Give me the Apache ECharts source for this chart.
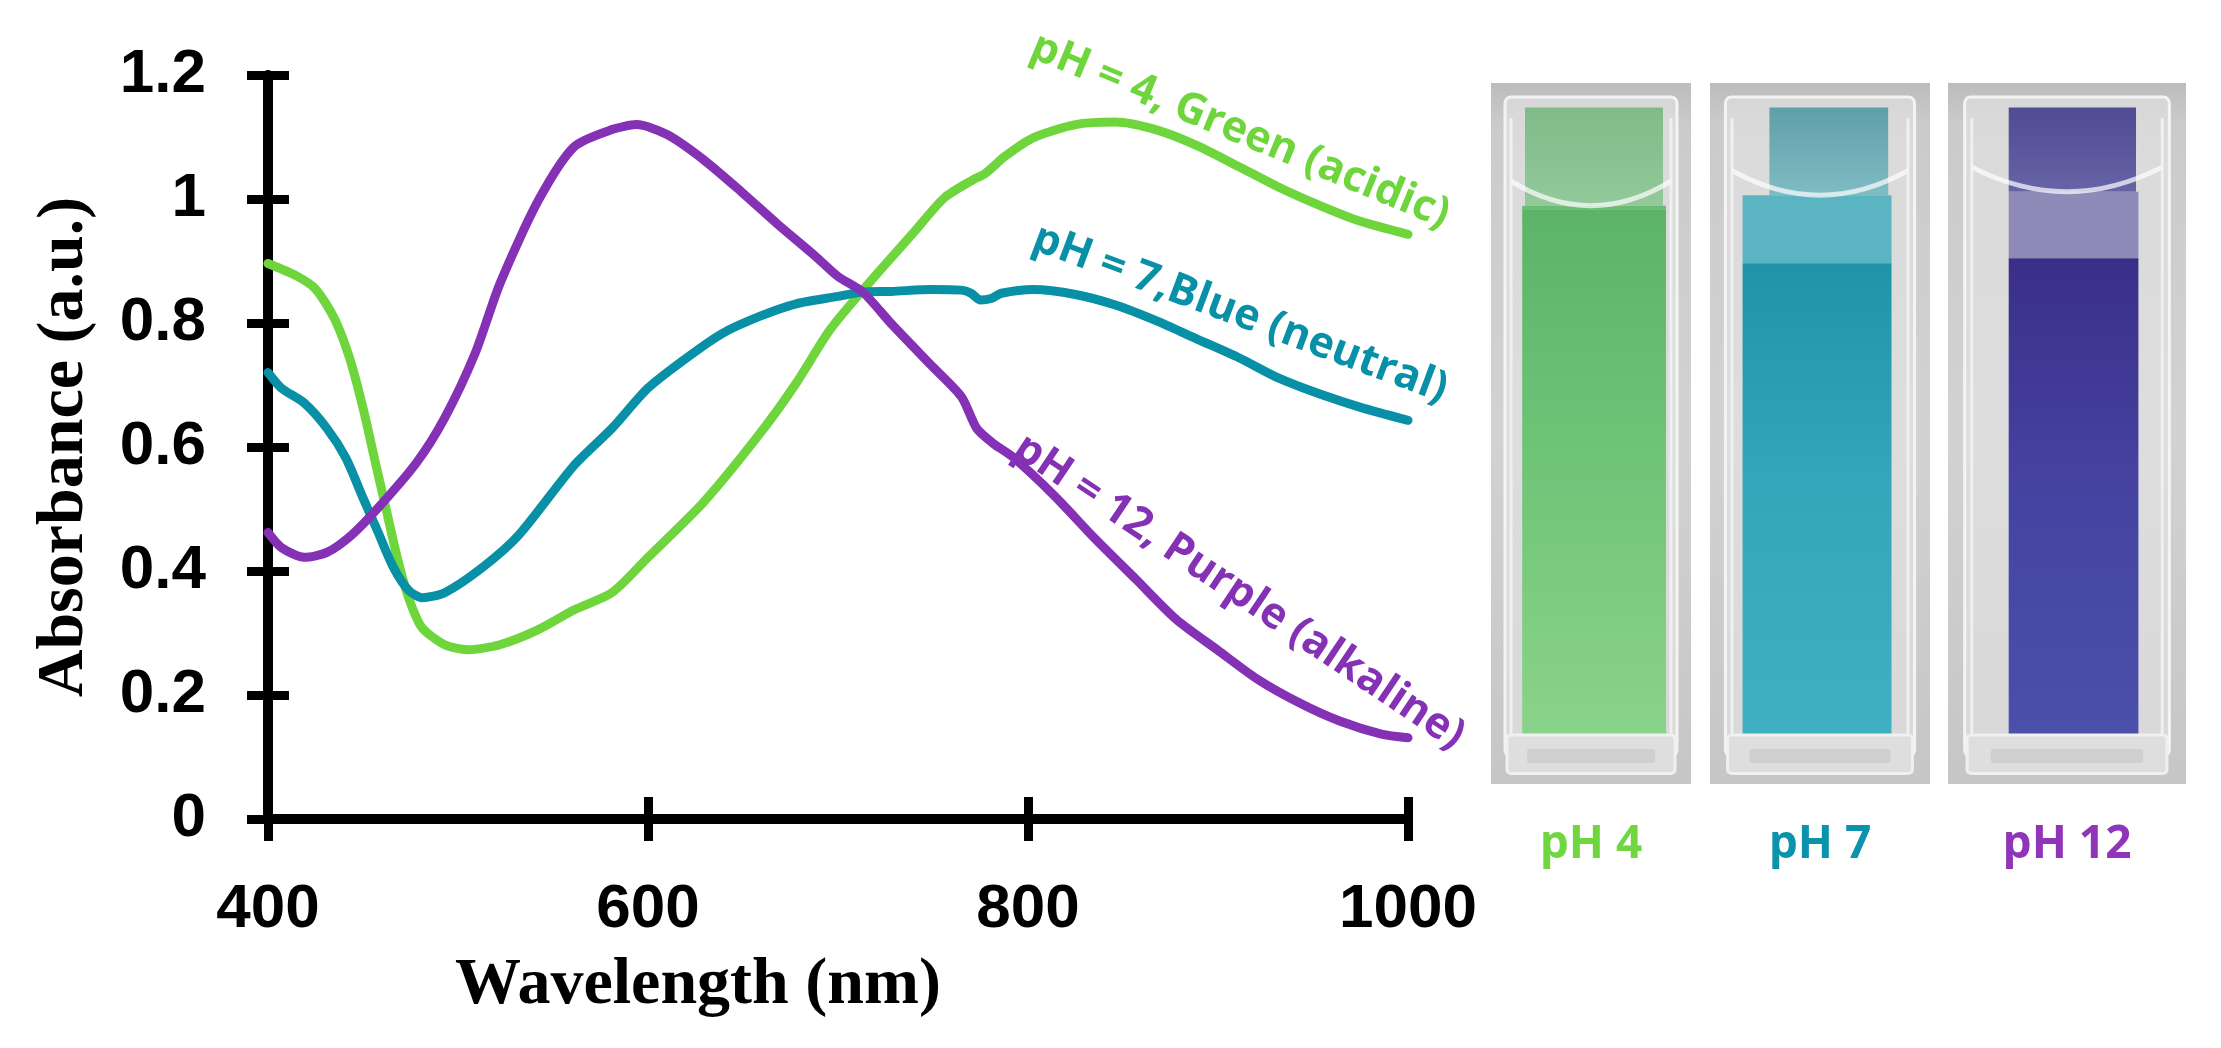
<!DOCTYPE html>
<html>
<head>
<meta charset="utf-8">
<script src="https://cdn.jsdelivr.net/npm/echarts@6/dist/echarts.min.js"></script>
<style>
html,body{margin:0;padding:0;background:#fff;}
#chart{width:2221px;height:1048px;}
</style>
</head>
<body>
<div id="chart"></div>
<script>
// ---- data ----
const xTicks = [400, 600, 800, 1000];
const yTicks = [0, 0.2, 0.4, 0.6, 0.8, 1, 1.2];

const wl4  = [400,415,425,435,443,450,456,462,468,474,481,493,505,522,542,561,581,600,629,659,678,696,717,739,756,771,777,788,803,825,846,868,889,911,932,954,975,1000];
const abs4 = [0.896,0.876,0.855,0.807,0.743,0.663,0.582,0.502,0.422,0.357,0.309,0.281,0.273,0.281,0.305,0.337,0.365,0.422,0.510,0.622,0.703,0.790,0.867,0.943,1.002,1.031,1.040,1.069,1.099,1.120,1.124,1.111,1.086,1.052,1.019,0.989,0.964,0.943];

const wl7  = [400,407,419,431,441,450,458,466,474,481,493,513,532,561,581,600,620,639,659,678,700,713,728,749,765,770,775,781,786,803,825,846,868,889,911,932,954,975,1000];
const abs7 = [0.720,0.695,0.671,0.630,0.582,0.518,0.462,0.406,0.369,0.357,0.365,0.406,0.458,0.570,0.630,0.695,0.743,0.783,0.811,0.831,0.843,0.850,0.851,0.854,0.853,0.848,0.837,0.840,0.848,0.854,0.846,0.829,0.803,0.774,0.744,0.711,0.685,0.664,0.643];

const wl12  = [400,407,419,431,444,458,478,493,509,522,542,561,581,594,610,629,649,668,688,700,713,728,749,765,773,782,792,814,835,857,878,900,921,943,964,986,1000];
const abs12 = [0.462,0.438,0.422,0.430,0.458,0.502,0.574,0.647,0.751,0.863,0.996,1.084,1.112,1.120,1.104,1.064,1.012,0.960,0.908,0.875,0.850,0.799,0.732,0.681,0.630,0.605,0.584,0.521,0.453,0.386,0.322,0.272,0.225,0.187,0.158,0.137,0.131];

const seriesNames = ['pH = 4, Green (acidic)', 'pH = 7,Blue (neutral)', 'pH = 12, Purple (alkaline)'];
const photoLabels = ['pH 4', 'pH 7', 'pH 12'];

const C_GREEN = '#6ed63c', C_BLUE = '#0890a7', C_PURPLE = '#8431b5';

function zip(a, b) { return a.map((v, i) => [v, b[i]]); }

const tickFont = "'Liberation Sans Narrow', 'Liberation Sans', Arial, sans-serif";
const serif = "'Liberation Serif', 'Times New Roman', serif";
const annFont = "'Open Sans', 'Noto Sans', sans-serif";

function mainAxisX() {
  return {
    type: 'value', min: 400, max: 1000, interval: 200, position: 'bottom',
    axisLine: { show: true, onZero: false, lineStyle: { color: '#000', width: 10 } },
    axisTick: { show: true, length: 22, lineStyle: { color: '#000', width: 9 } },
    axisLabel: { fontSize: 62, fontWeight: 'bold', fontFamily: tickFont, color: '#000', margin: 60,
      formatter: v => String(v) },
    splitLine: { show: false },
    name: 'Wavelength (nm)', nameLocation: 'middle', nameGap: 134,
    nameTextStyle: { fontFamily: serif, fontWeight: 'bold', fontSize: 66, color: '#000', padding: [0, 280, 0, 0] }
  };
}
function innerAxisX() {
  return {
    type: 'value', min: 400, max: 1000, interval: 200, position: 'bottom',
    axisLine: { show: false, onZero: false },
    axisTick: { show: true, inside: true, length: 22, lineStyle: { color: '#000', width: 9 } },
    axisLabel: { show: false }, splitLine: { show: false }
  };
}
function mainAxisY() {
  return {
    type: 'value', min: 0, max: 1.2, interval: 0.2, position: 'left',
    axisLine: { show: true, lineStyle: { color: '#000', width: 10 } },
    axisTick: { show: true, length: 21, lineStyle: { color: '#000', width: 9 } },
    axisLabel: { fontSize: 62, fontWeight: 'bold', fontFamily: tickFont, color: '#000', margin: 62,
      formatter: v => String(Math.round(v * 10) / 10) },
    splitLine: { show: false },
    name: 'Absorbance (a.u.)', nameLocation: 'middle', nameGap: 170,
    nameTextStyle: { fontFamily: serif, fontWeight: 'bold', fontSize: 66, color: '#000' }
  };
}
function innerAxisY() {
  return {
    type: 'value', min: 0, max: 1.2, interval: 0.2, position: 'left',
    axisLine: { show: false },
    axisTick: { show: true, inside: true, length: 21, lineStyle: { color: '#000', width: 9 } },
    axisLabel: { show: false }, splitLine: { show: false }
  };
}

function lineSeries(name, data, color) {
  return {
    type: 'line', name: name, data: data, xAxisIndex: 0, yAxisIndex: 0,
    showSymbol: false, smooth: 0.25, silent: true, z: 5,
    lineStyle: { color: color, width: 9, cap: 'round', join: 'round' }
  };
}

// ---- decorative cuvette photos ----
function cuvette(x, y, w, h, c) {
  const els = [];
  els.push({ type: 'rect', shape: { x: x, y: y, width: w, height: h },
    style: { fill: new echarts.graphic.LinearGradient(0, 0, 0, 1, [
      { offset: 0, color: '#bcbcbc' }, { offset: 0.06, color: '#cbcbcb' },
      { offset: 0.5, color: '#d2d2d2' }, { offset: 1, color: '#c6c6c6' }]) } });
  els.push({ type: 'rect', shape: { x: x + 0.07 * w, y: y + 0.02 * h, width: 0.86 * w, height: 0.94 * h, r: 6 },
    style: { fill: 'rgba(228,228,228,0.6)', stroke: 'rgba(246,246,246,0.95)', lineWidth: 3 } });
  els.push({ type: 'rect', shape: { x: x + c.tl * w, y: y + 0.035 * h, width: (c.tr - c.tl) * w, height: (c.men - 0.035) * h },
    style: { fill: new echarts.graphic.LinearGradient(0, 0, 0, 1, [
      { offset: 0, color: c.top }, { offset: 1, color: c.top2 }]) } });
  els.push({ type: 'rect', shape: { x: x + c.l * w, y: y + c.men * h, width: (c.r - c.l) * w, height: (c.main - c.men) * h },
    style: { fill: c.band } });
  els.push({ type: 'rect', shape: { x: x + c.l * w, y: y + c.main * h, width: (c.r - c.l) * w, height: (0.93 - c.main) * h },
    style: { fill: new echarts.graphic.LinearGradient(0, 0, 0, 1, [
      { offset: 0, color: c.m0 }, { offset: 0.45, color: c.m1 }, { offset: 1, color: c.m2 }]) } });
  els.push({ type: 'bezierCurve', shape: { x1: x + 0.1 * w, y1: y + (c.men - 0.035) * h, cpx1: x + 0.5 * w, cpy1: y + (c.men + 0.035) * h,
    x2: x + 0.9 * w, y2: y + (c.men - 0.035) * h },
    style: { stroke: 'rgba(255,255,255,0.7)', lineWidth: 5, fill: null } });
  els.push({ type: 'line', shape: { x1: x + 0.1 * w, y1: y + 0.05 * h, x2: x + 0.1 * w, y2: y + 0.93 * h },
    style: { stroke: 'rgba(245,245,245,0.8)', lineWidth: 3 } });
  els.push({ type: 'line', shape: { x1: x + 0.9 * w, y1: y + 0.05 * h, x2: x + 0.9 * w, y2: y + 0.93 * h },
    style: { stroke: 'rgba(245,245,245,0.8)', lineWidth: 3 } });
  els.push({ type: 'rect', shape: { x: x + 0.08 * w, y: y + 0.93 * h, width: 0.84 * w, height: 0.055 * h, r: 4 },
    style: { fill: '#dedede', stroke: '#f0f0f0', lineWidth: 3 } });
  els.push({ type: 'rect', shape: { x: x + 0.18 * w, y: y + 0.95 * h, width: 0.64 * w, height: 0.02 * h, r: 3 },
    style: { fill: '#cfcfcf' } });
  return els;
}

const photos = [
  { x: 1491, w: 200, c: { l: 0.156, r: 0.875, tl: 0.17, tr: 0.86, men: 0.175, main: 0.18,
      top: '#7fbb88', top2: '#93c99b', band: '#6cbb75', m0: '#5cb468', m1: '#6ec377', m2: '#8ad38a' } },
  { x: 1710, w: 220, c: { l: 0.148, r: 0.825, tl: 0.27, tr: 0.81, men: 0.16, main: 0.257,
      top: '#5f9fa8', top2: '#7fbcc4', band: '#5ab4c2', m0: '#1f93a8', m1: '#33a6b9', m2: '#3fb0c1' } },
  { x: 1948, w: 238, c: { l: 0.255, r: 0.80, tl: 0.255, tr: 0.79, men: 0.155, main: 0.25,
      top: '#4f4b95', top2: '#6663a6', band: '#8f8bb8', m0: '#3a2f88', m1: '#4542a0', m2: '#4b50aa' } }
];
const photoY = 83, photoH = 701;
const labelColors = ['#70d640', '#0a93ab', '#9034b8'];

let graphics = [];
photos.forEach((p, i) => {
  graphics = graphics.concat(cuvette(p.x, photoY, p.w, photoH, p.c));
  graphics.push({ type: 'text', x: p.x + p.w / 2, y: 845,
    style: { text: photoLabels[i], fill: labelColors[i], font: "bold 46px " + annFont,
      textAlign: 'center', textVerticalAlign: 'middle', align: 'center', verticalAlign: 'middle' } });
});

// rotated curve annotations
const annotations = [
  { text: seriesNames[0], x: 1240, y: 131, deg: 22.5, color: C_GREEN },
  { text: seriesNames[1], x: 1240, y: 314, deg: 20.5, color: C_BLUE },
  { text: seriesNames[2], x: 1239, y: 592, deg: 33.8, color: C_PURPLE }
];
annotations.forEach(a => {
  graphics.push({ type: 'text', x: a.x, y: a.y, rotation: -a.deg * Math.PI / 180, z: 10,
    style: { text: a.text, fill: a.color, font: "bold 43px " + annFont,
      textAlign: 'center', textVerticalAlign: 'middle', align: 'center', verticalAlign: 'middle' } });
});

const chart = echarts.init(document.getElementById('chart'), null, { renderer: 'canvas' });
chart.setOption({
  backgroundColor: '#ffffff',
  animation: false,
  grid: { left: 268, right: 813, top: 75, bottom: 229, containLabel: false },
  xAxis: [mainAxisX(), innerAxisX()],
  yAxis: [mainAxisY(), innerAxisY()],
  series: [
    lineSeries(seriesNames[0], zip(wl4, abs4), C_GREEN),
    lineSeries(seriesNames[1], zip(wl7, abs7), C_BLUE),
    lineSeries(seriesNames[2], zip(wl12, abs12), C_PURPLE)
  ],
  graphic: graphics
});
</script>
</body>
</html>
